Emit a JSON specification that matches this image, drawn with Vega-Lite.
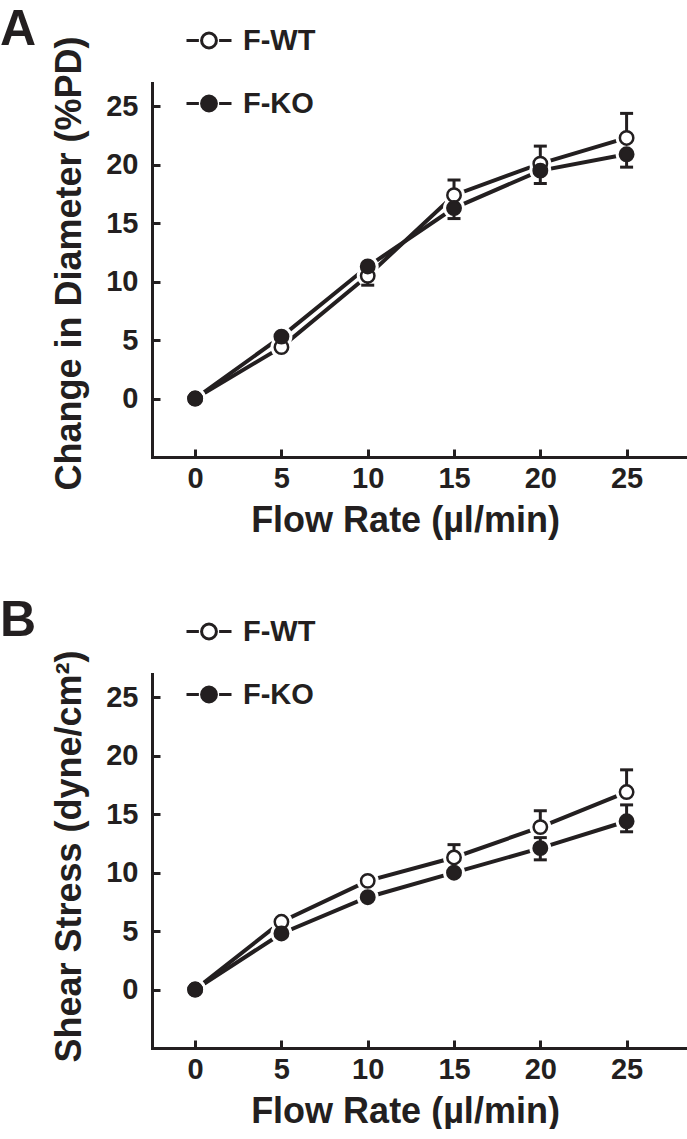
{
  "$schema": "https://vega.github.io/schema/vega-lite/v6.json",
  "padding": {"left": 0, "top": 4, "right": 0, "bottom": 0},
  "background": "white",
  "datasets": {
    "meanA": [
      {"rate": 0, "group": "F-WT", "value": 0},
      {"rate": 5, "group": "F-WT", "value": 4.4},
      {"rate": 10, "group": "F-WT", "value": 10.5},
      {"rate": 15, "group": "F-WT", "value": 17.4},
      {"rate": 20, "group": "F-WT", "value": 20.1},
      {"rate": 25, "group": "F-WT", "value": 22.3},
      {"rate": 0, "group": "F-KO", "value": 0},
      {"rate": 5, "group": "F-KO", "value": 5.3},
      {"rate": 10, "group": "F-KO", "value": 11.3},
      {"rate": 15, "group": "F-KO", "value": 16.3},
      {"rate": 20, "group": "F-KO", "value": 19.5},
      {"rate": 25, "group": "F-KO", "value": 20.9}
    ],
    "errA": [
      {"rate": 15, "group": "F-WT", "value": 17.4, "end": 18.7},
      {"rate": 20, "group": "F-WT", "value": 20.1, "end": 21.6},
      {"rate": 25, "group": "F-WT", "value": 22.3, "end": 24.4},
      {"rate": 10, "group": "F-KO", "value": 11.3, "end": 9.7},
      {"rate": 15, "group": "F-KO", "value": 16.3, "end": 15.4},
      {"rate": 20, "group": "F-KO", "value": 19.5, "end": 18.4},
      {"rate": 25, "group": "F-KO", "value": 20.9, "end": 19.8}
    ],
    "meanB": [
      {"rate": 0, "group": "F-WT", "value": 0},
      {"rate": 5, "group": "F-WT", "value": 5.8},
      {"rate": 10, "group": "F-WT", "value": 9.3},
      {"rate": 15, "group": "F-WT", "value": 11.3},
      {"rate": 20, "group": "F-WT", "value": 13.9},
      {"rate": 25, "group": "F-WT", "value": 16.9},
      {"rate": 0, "group": "F-KO", "value": 0},
      {"rate": 5, "group": "F-KO", "value": 4.8},
      {"rate": 10, "group": "F-KO", "value": 7.9},
      {"rate": 15, "group": "F-KO", "value": 10.0},
      {"rate": 20, "group": "F-KO", "value": 12.1},
      {"rate": 25, "group": "F-KO", "value": 14.4}
    ],
    "errB": [
      {"rate": 15, "group": "F-WT", "value": 11.3, "end": 12.4},
      {"rate": 20, "group": "F-WT", "value": 13.9, "end": 15.3},
      {"rate": 25, "group": "F-WT", "value": 16.9, "end": 18.8},
      {"rate": 20, "group": "F-KO", "value": 12.1, "end": 11.1},
      {"rate": 20, "group": "F-KO", "value": 12.1, "end": 13.0},
      {"rate": 25, "group": "F-KO", "value": 14.4, "end": 13.5},
      {"rate": 25, "group": "F-KO", "value": 14.4, "end": 15.8}
    ]
  },
  "vconcat": [
    {
      "width": 535,
      "height": 374,
      "title": {"text": "A", "anchor": "start", "frame": "group", "fontSize": 50, "fontWeight": "bold", "font": "Liberation Sans", "color": "#231f20", "dx": -152, "dy": 53, "baseline": "alphabetic", "offset": -25},
      "layer": [
        {
          "data": {"name": "meanA"},
          "mark": {"type": "line", "color": "#231f20", "strokeWidth": 4},
          "encoding": {
            "x": {"field": "rate", "type": "quantitative", "scale": {"domain": [-2.5, 28.5], "nice": false, "zero": false},
                  "axis": {"title": "Flow Rate (µl/min)", "values": [0, 5, 10, 15, 20, 25], "labelPadding": 15, "titlePadding": 10, "titleX": 253}},
            "y": {"field": "value", "type": "quantitative", "scale": {"domain": [-5, 27], "nice": false, "zero": false},
                  "axis": {"title": "Change in Diameter (%PD)", "values": [0, 5, 10, 15, 20, 25], "labelPadding": 22, "titleX": -72, "titleY": 180, "titleBaseline": "alphabetic"}},
            "detail": {"field": "group"}
          }
        },
        {
          "data": {"name": "meanA"},
          "mark": {"type": "point", "shape": "circle", "filled": true, "color": "white", "size": 480, "opacity": 1},
          "encoding": {
            "x": {"field": "rate", "type": "quantitative"},
            "y": {"field": "value", "type": "quantitative"}
          }
        },
        {
          "data": {"name": "errA"},
          "mark": {"type": "rule", "color": "#231f20", "strokeWidth": 3},
          "encoding": {
            "x": {"field": "rate", "type": "quantitative"},
            "y": {"field": "value", "type": "quantitative"},
            "y2": {"field": "end"}
          }
        },
        {
          "data": {"name": "errA"},
          "mark": {"type": "tick", "orient": "horizontal", "color": "#231f20", "size": 13, "thickness": 3, "opacity": 1},
          "encoding": {
            "x": {"field": "rate", "type": "quantitative"},
            "y": {"field": "end", "type": "quantitative"}
          }
        },
        {
          "data": {"name": "meanA"},
          "mark": {"type": "point", "shape": "circle", "size": 180, "stroke": "#231f20", "strokeWidth": 2.5, "opacity": 1, "fillOpacity": 1},
          "encoding": {
            "x": {"field": "rate", "type": "quantitative"},
            "y": {"field": "value", "type": "quantitative"},
            "fill": {"field": "group", "type": "nominal",
                     "scale": {"domain": ["F-WT", "F-KO"], "range": ["white", "#231f20"]},
                     "legend": {"title": null, "orient": "none", "legendX": 33, "legendY": -66.5, "direction": "vertical",
                                "symbolType": "M -1 0 L -0.45 0 M 0.45 0 L 1 0 M 0.33 0 A 0.33 0.33 0 1 1 -0.33 0 A 0.33 0.33 0 1 1 0.33 0 Z",
                                "symbolSize": 2025, "symbolStrokeColor": "#231f20", "symbolStrokeWidth": 3,
                                "labelFontSize": 29, "labelFontWeight": "bold", "labelFont": "Liberation Sans", "labelColor": "#231f20",
                                "labelOffset": 10, "rowPadding": 24, "padding": 0,
                                "encode": {"symbols": {"update": {"stroke": {"value": "#231f20"}, "strokeWidth": {"value": 3}, "opacity": {"value": 1}}}}}}
          }
        }
      ]
    },
    {
      "width": 535,
      "height": 374,
      "title": {"text": "B", "anchor": "start", "frame": "group", "fontSize": 50, "fontWeight": "bold", "font": "Liberation Sans", "color": "#231f20", "dx": -152, "dy": 53, "baseline": "alphabetic", "offset": -25},
      "layer": [
        {
          "data": {"name": "meanB"},
          "mark": {"type": "line", "color": "#231f20", "strokeWidth": 4},
          "encoding": {
            "x": {"field": "rate", "type": "quantitative", "scale": {"domain": [-2.5, 28.5], "nice": false, "zero": false},
                  "axis": {"title": "Flow Rate (µl/min)", "values": [0, 5, 10, 15, 20, 25], "labelPadding": 15, "titlePadding": 10, "titleX": 253}},
            "y": {"field": "value", "type": "quantitative", "scale": {"domain": [-5, 27], "nice": false, "zero": false},
                  "axis": {"title": "Shear Stress (dyne/cm²)", "values": [0, 5, 10, 15, 20, 25], "labelPadding": 22, "titleX": -72, "titleY": 182, "titleBaseline": "alphabetic"}},
            "detail": {"field": "group"}
          }
        },
        {
          "data": {"name": "meanB"},
          "mark": {"type": "point", "shape": "circle", "filled": true, "color": "white", "size": 480, "opacity": 1},
          "encoding": {
            "x": {"field": "rate", "type": "quantitative"},
            "y": {"field": "value", "type": "quantitative"}
          }
        },
        {
          "data": {"name": "errB"},
          "mark": {"type": "rule", "color": "#231f20", "strokeWidth": 3},
          "encoding": {
            "x": {"field": "rate", "type": "quantitative"},
            "y": {"field": "value", "type": "quantitative"},
            "y2": {"field": "end"}
          }
        },
        {
          "data": {"name": "errB"},
          "mark": {"type": "tick", "orient": "horizontal", "color": "#231f20", "size": 13, "thickness": 3, "opacity": 1},
          "encoding": {
            "x": {"field": "rate", "type": "quantitative"},
            "y": {"field": "end", "type": "quantitative"}
          }
        },
        {
          "data": {"name": "meanB"},
          "mark": {"type": "point", "shape": "circle", "size": 180, "stroke": "#231f20", "strokeWidth": 2.5, "opacity": 1, "fillOpacity": 1},
          "encoding": {
            "x": {"field": "rate", "type": "quantitative"},
            "y": {"field": "value", "type": "quantitative"},
            "fill": {"field": "group", "type": "nominal",
                     "scale": {"domain": ["F-WT", "F-KO"], "range": ["white", "#231f20"]},
                     "legend": {"title": null, "orient": "none", "legendX": 33, "legendY": -66.5, "direction": "vertical",
                                "symbolType": "M -1 0 L -0.45 0 M 0.45 0 L 1 0 M 0.33 0 A 0.33 0.33 0 1 1 -0.33 0 A 0.33 0.33 0 1 1 0.33 0 Z",
                                "symbolSize": 2025, "symbolStrokeColor": "#231f20", "symbolStrokeWidth": 3,
                                "labelFontSize": 29, "labelFontWeight": "bold", "labelFont": "Liberation Sans", "labelColor": "#231f20",
                                "labelOffset": 10, "rowPadding": 24, "padding": 0,
                                "encode": {"symbols": {"update": {"stroke": {"value": "#231f20"}, "strokeWidth": {"value": 3}, "opacity": {"value": 1}}}}}}
          }
        }
      ]
    }
  ],
  "spacing": 57,
  "resolve": {"scale": {"fill": "independent", "x": "independent", "y": "independent"}, "legend": {"fill": "independent"}},
  "config": {
    "font": "Liberation Sans",
    "view": {"stroke": null},
    "axis": {
      "grid": false,
      "domainColor": "#231f20",
      "domainWidth": 3,
      "domainCap": "square",
      "tickColor": "#231f20",
      "tickWidth": 3,
      "tickSize": -8,
      "labelFont": "Liberation Sans",
      "labelFontSize": 29,
      "labelFontWeight": "bold",
      "labelColor": "#231f20",
      "titleFont": "Liberation Sans",
      "titleFontSize": 36,
      "titleFontWeight": "bold",
      "titleColor": "#231f20"
    }
  }
}
